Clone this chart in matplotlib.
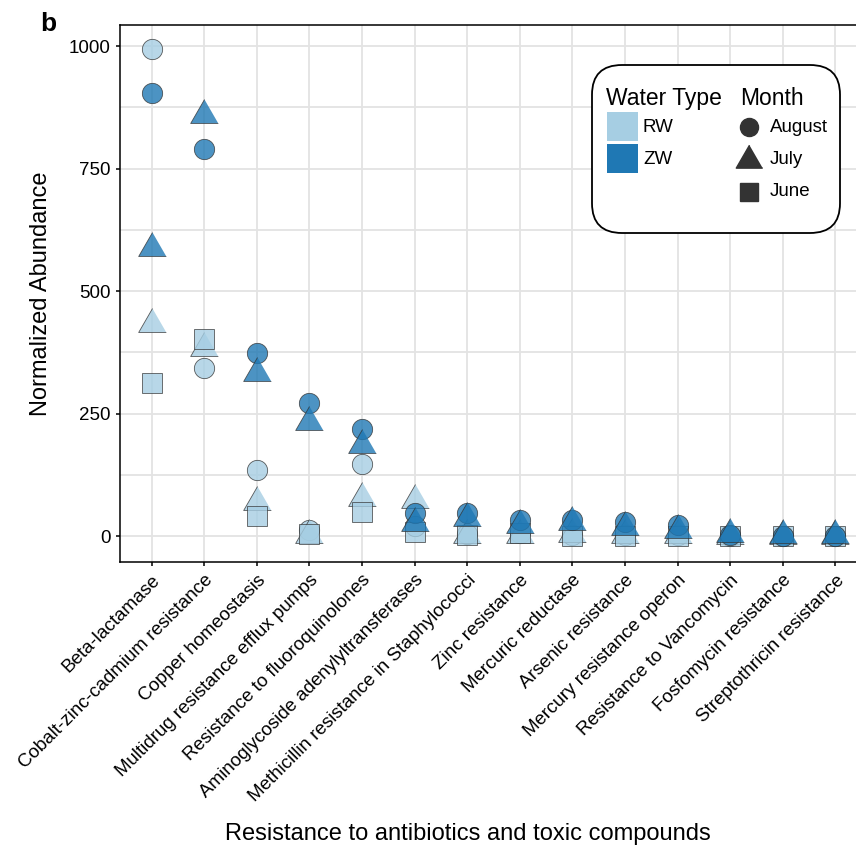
import numpy as np
import matplotlib
matplotlib.use("Agg")
import matplotlib.pyplot as plt
from matplotlib.patches import FancyBboxPatch, Rectangle
from matplotlib.lines import Line2D

plt.rcParams['font.family'] = ['Liberation Sans', 'DejaVu Sans']

categories = ["Beta-lactamase", "Cobalt-zinc-cadmium resistance", "Copper homeostasis",
              "Multidrug resistance efflux pumps", "Resistance to fluoroquinolones",
              "Aminoglycoside adenylyltransferases", "Methicillin resistance in Staphylococci",
              "Zinc resistance", "Mercuric reductase", "Arsenic resistance",
              "Mercury resistance operon", "Resistance to Vancomycin",
              "Fosfomycin resistance", "Streptothricin resistance"]

# RW = light, ZW = dark
rw_aug = [994, 343, 135, 12, 147, 20, 4, 6, 2, 2, 2, 1, 1, 1]
rw_jul = [432, 384, 69, 3, 78, 73, 3, 2, 5, 3, 3, 1, 1, 1]
rw_jun = [312, 403, 41, 4, 49, 8, 2, 6, 0, 0, 0, 0, 0, 0]
zw_aug = [904, 790, 373, 271, 218, 47, 47, 33, 33, 28, 22, 2, 1, 1]
zw_jul = [588, 859, 333, 233, 186, 27, 37, 22, 29, 18, 12, 4, 2, 2]

rw_col = "#a6cee3"
zw_col = "#1f78b4"
tri = [(0, 1), (-0.866, -0.5), (0.866, -0.5)]

W, H = 856, 847
fig = plt.figure(figsize=(W / 100, H / 100), dpi=100)
ax = fig.add_axes([120 / W, 1 - 562 / H, 747 / W, 537 / H])

x = np.arange(len(categories))
series = [(rw_aug, rw_col, 'o', 14.6), (rw_jul, rw_col, tri, 23), (rw_jun, rw_col, 's', 14.2),
          (zw_aug, zw_col, 'o', 14.6), (zw_jul, zw_col, tri, 23)]
for vals, col, mk, ms in series:
    ax.plot(x, vals, linestyle='none', marker=mk, markersize=ms, markerfacecolor=col,
            markeredgecolor='#333333', markeredgewidth=0.6, alpha=0.8, zorder=3)

ax.set_xlim(-0.6, len(categories) - 0.4)
ax.set_ylim(-53, 1043)
ax.set_yticks([0, 250, 500, 750, 1000])
ax.set_yticks([125, 375, 625, 875], minor=True)
ax.set_xticks(x)
ax.set_xticklabels(categories, rotation=45, ha='right', va='top', rotation_mode='anchor', fontsize=13.5)
ax.tick_params(axis='y', labelsize=13.5)
ax.tick_params(which='major', direction='out', length=3, width=1.1, color='black', pad=4)
ax.tick_params(which='minor', length=0)
ax.grid(True, which='both', color='#e3e3e3', linewidth=1.3, zorder=0)
ax.set_axisbelow(True)
for s in ax.spines.values():
    s.set_linewidth(1.1)
    s.set_color('black')

ax.set_ylabel("Normalized Abundance", fontsize=17, labelpad=12)
ax.set_xlabel("Resistance to antibiotics and toxic compounds", fontsize=17)
ax.xaxis.set_label_coords((468 - 120) / 747, -(823 - 562) / 537)

fig.text(40 / W, 1 - 12 / H, "b", fontsize=19, fontweight='bold', va='top', ha='left')

# legend box
def fx(p):
    return p / W

def fy(p):
    return 1 - p / H

box = FancyBboxPatch((fx(592), fy(233)), fx(840) - fx(592), fy(65) - fy(233),
                     boxstyle="round,pad=0,rounding_size=0.035", transform=fig.transFigure,
                     facecolor='white', edgecolor='black', linewidth=1.3, zorder=5)
fig.patches.append(box)

fig.text(fx(606), fy(105), "Water Type", fontsize=16.5, va='baseline', ha='left', zorder=6)
fig.text(fx(740), fy(105), "Month", fontsize=16.5, va='baseline', ha='left', zorder=6)
for lab, col, top in [("RW", rw_col, 112), ("ZW", zw_col, 144)]:
    fig.patches.append(Rectangle((fx(607), fy(top + 29)), fx(31), 29 / H, transform=fig.transFigure,
                                 facecolor=col, edgecolor='none', zorder=6))
    fig.text(fx(643), fy(top + 16), lab, fontsize=13.5, va='center', ha='left', zorder=6)
for lab, mk, ms, yc in [("August", 'o', 13, 127), ("July", tri, 22, 160), ("June", 's', 12.5, 192)]:
    fig.lines.append(Line2D([fx(749)], [fy(yc)], transform=fig.transFigure, marker=mk, markersize=ms,
                            color='#333333', linestyle='none', zorder=6))
    fig.text(fx(770), fy(yc), lab, fontsize=13.5, va='center', ha='left', zorder=6)

fig.savefig("out.png", dpi=100)
